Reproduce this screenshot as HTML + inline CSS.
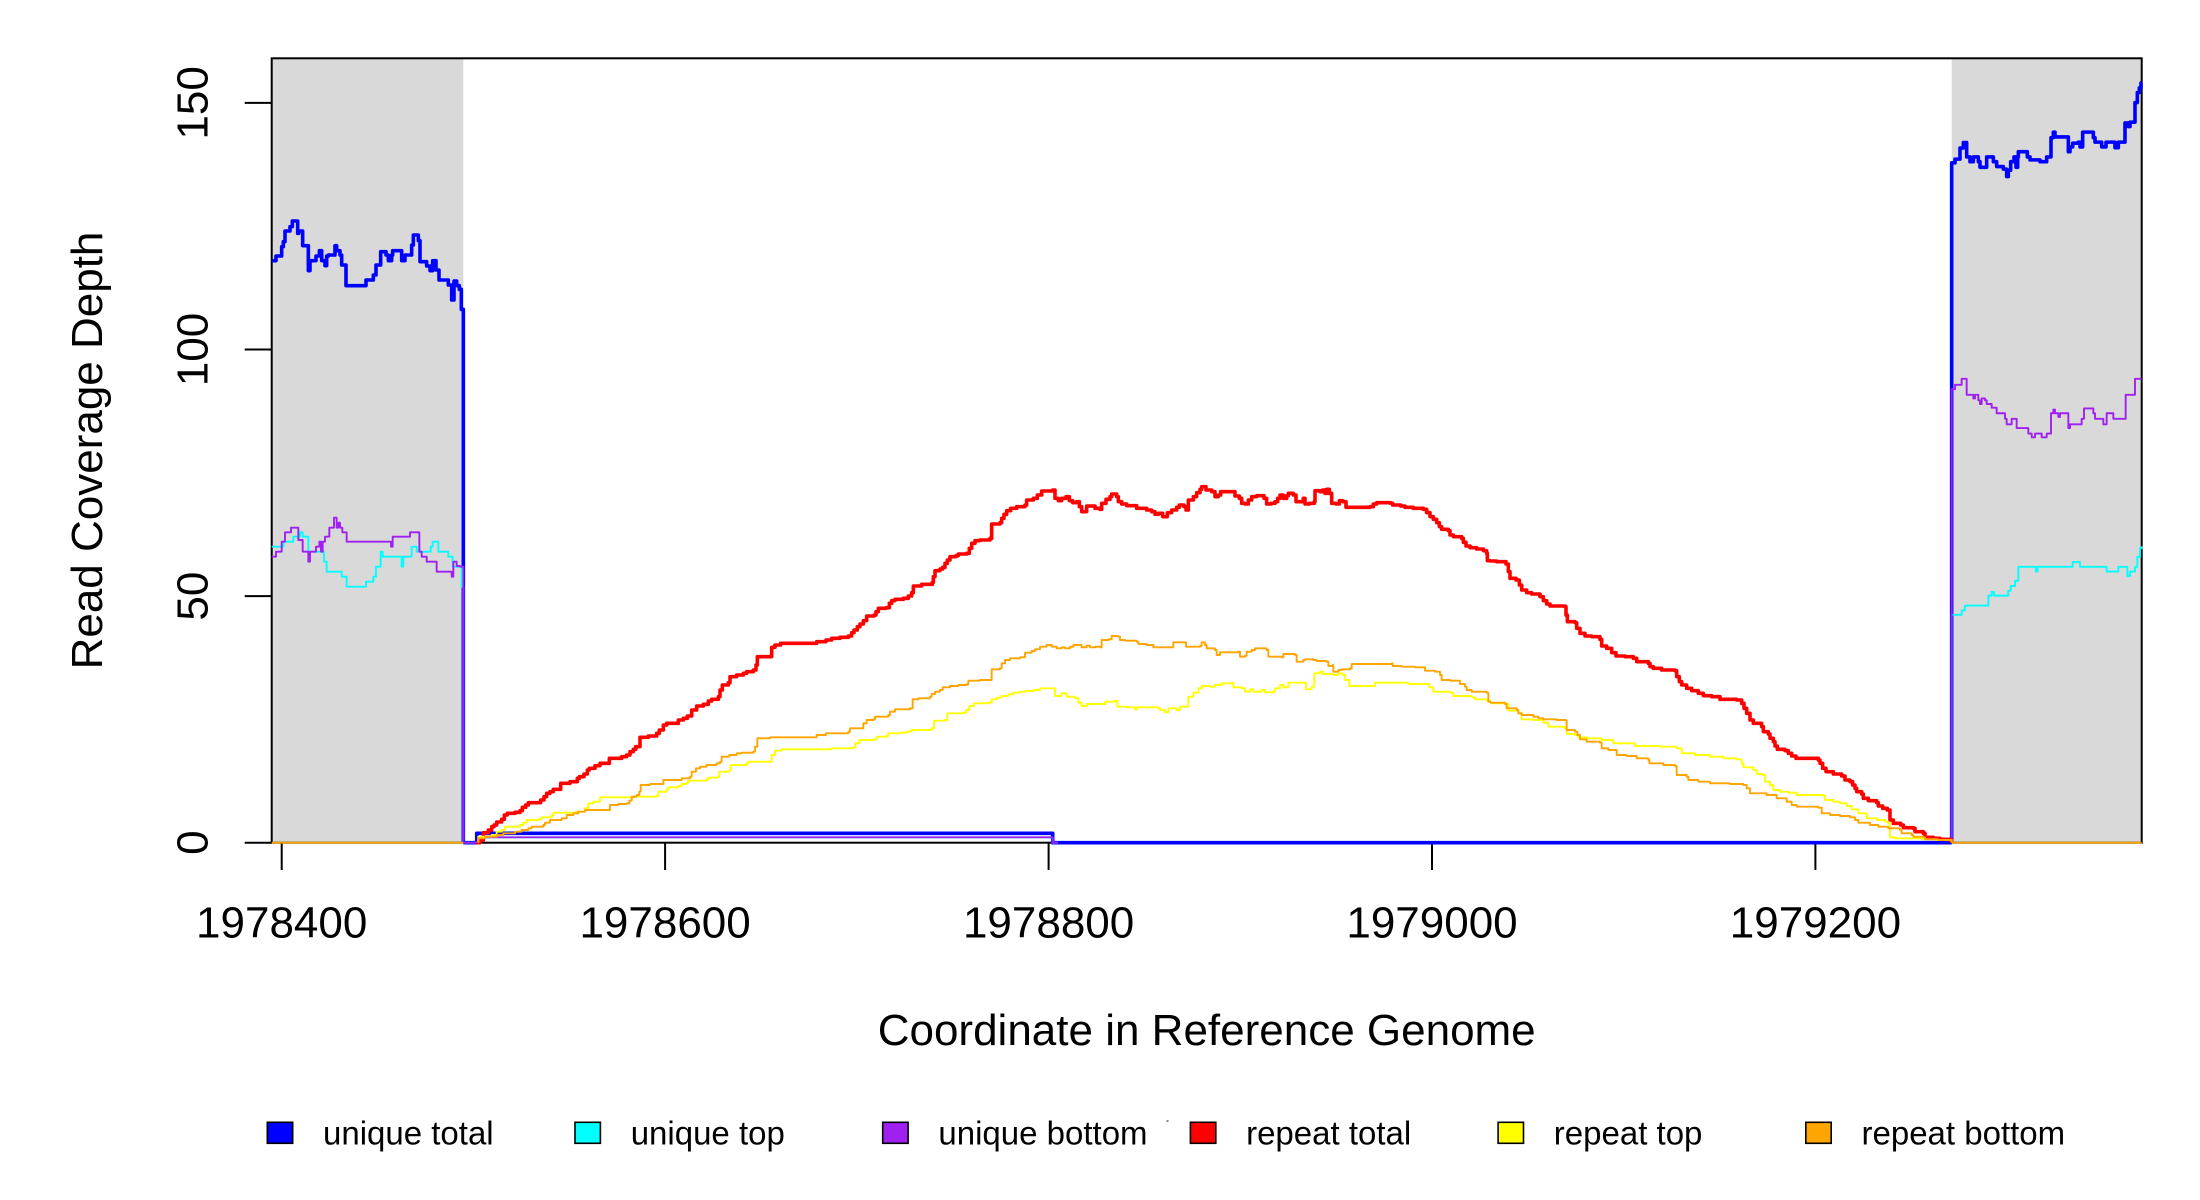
<!DOCTYPE html>
<html>
<head>
<meta charset="utf-8">
<style>
html,body{margin:0;padding:0;background:#fff;overflow:hidden;}
svg{display:block;}
text{font-family:"Liberation Sans",Arial,sans-serif;fill:#000;}
.s{fill:none;stroke-linejoin:round;stroke-linecap:butt;}
.thick{stroke-width:3.6px;}
.thin{stroke-width:1.9px;}
</style>
</head>
<body>
<svg width="2200" height="1200" viewBox="0 0 2200 1200" xmlns="http://www.w3.org/2000/svg">
<rect x="0" y="0" width="2200" height="1200" fill="#ffffff"/>
<!-- shaded regions -->
<rect x="271.7" y="58.3" width="191.6" height="784.4" fill="#d9d9d9"/>
<rect x="1951.7" y="58.3" width="190" height="784.4" fill="#d9d9d9"/>
<!-- box -->
<rect x="271.7" y="58.3" width="1870" height="784.4" fill="none" stroke="#000" stroke-width="2"/>

<!-- axis ticks -->
<g stroke="#000" stroke-width="2">
<line x1="244.7" y1="842.7" x2="271.7" y2="842.7"/>
<line x1="244.7" y1="596.1" x2="271.7" y2="596.1"/>
<line x1="244.7" y1="349.5" x2="271.7" y2="349.5"/>
<line x1="244.7" y1="102.9" x2="271.7" y2="102.9"/>
<line x1="281.7" y1="842.7" x2="281.7" y2="870"/>
<line x1="665.1" y1="842.7" x2="665.1" y2="870"/>
<line x1="1048.6" y1="842.7" x2="1048.6" y2="870"/>
<line x1="1432" y1="842.7" x2="1432" y2="870"/>
<line x1="1815.4" y1="842.7" x2="1815.4" y2="870"/>
</g>
<g font-size="44" text-anchor="middle">
<text transform="translate(207.6,842.7) rotate(-90)">0</text>
<text transform="translate(207.6,596.1) rotate(-90)">50</text>
<text transform="translate(207.6,349.5) rotate(-90)">100</text>
<text transform="translate(207.6,102.9) rotate(-90)">150</text>
<text x="281.7" y="937.5">1978400</text>
<text x="665.1" y="937.5">1978600</text>
<text x="1048.6" y="937.5">1978800</text>
<text x="1432" y="937.5">1979000</text>
<text x="1815.4" y="937.5">1979200</text>
<text x="1206.7" y="1045">Coordinate in Reference Genome</text>
<text transform="translate(102,450.5) rotate(-90)">Read Coverage Depth</text>
</g>

<!-- ===== unique series: left region ===== -->
<g transform="matrix(0.333333 0 0 0.333333 260 200)">
<path class="s thick" vector-effect="non-scaling-stroke" stroke="#0000ff" d="M35 182 H48 V168 H65 V140 H70 V125 H75 V93 H90 V80 H97 V63 H113 V100 H116 V93 H128 V137 H145 V212 H150 V182 H168 V168 H178 V152 H185 V182 H195 V197 H200 V168 H205 V165 H225 V137 H230 V152 H240 V165 H245 V195 H258 V257 H318 V240 H340 V225 H348 V195 H362 V155 H378 V165 H385 V182 H395 V165 H398 V152 H425 V182 H435 V165 H455 V135 H460 V105 H475 V122 H480 V185 H500 V198 H510 V212 H518 V182 H528 V210 H537 V240 H565 V255 H575 V300 H582 V243 H590 V257 H598 V268 H604 V328 H610 V1928"/>
<path class="s thin" vector-effect="non-scaling-stroke" stroke="#00ffff" d="M35 1040 H70 V1025 H100 V1010 H120 V997 H128 V1010 H145 V1055 H192 V1085 H200 V1115 H245 V1130 H260 V1160 H318 V1145 H340 V1130 H348 V1100 H362 V1055 H368 V1070 H425 V1100 H430 V1070 H455 V1040 H470 V1055 H512 V1040 H518 V1025 H535 V1055 H565 V1070 H578 V1100 H605 V1160 H610 V1928"/>
<path class="s thin" vector-effect="non-scaling-stroke" stroke="#a020f0" d="M35 1070 H48 V1055 H65 V1025 H75 V997 H93 V983 H115 V1020 H128 V1055 H145 V1085 H150 V1055 H168 V1040 H178 V1025 H183 V1055 H188 V1025 H195 V1010 H208 V983 H222 V953 H230 V983 H235 V968 H240 V983 H247 V997 H260 V1025 H393 V1040 H398 V1010 H450 V997 H478 V1055 H485 V1070 H500 V1085 H530 V1115 H575 V1130 H580 V1085 H590 V1098 H600 V1100 H610 V1928"/>
</g>

<!-- unique series: middle region -->
<path class="s thick" stroke="#0000ff" d="M463.3 842.7 H476.7 V833.3 H1052.7 V842.7 H1951.7"/>
<path class="s thin" stroke="#00ffff" d="M463.3 842.7 H478 V837.3 H1052.7 V842.7 H1058"/>
<path class="s thin" stroke="#a020f0" d="M463.3 842.7 H478 V837.3 H1052.7 V842.7 H1058"/>

<!-- ===== unique series: right region ===== -->
<g transform="matrix(0.333333 0 0 0.369904 1940 60)">
<path class="s thick" vector-effect="non-scaling-stroke" stroke="#0000ff" d="M35 2116 V278 H45 V268 H60 V238 H70 V223 H80 V262 H90 V275 H100 V262 H115 V275 H120 V290 H140 V262 H160 V275 H170 V288 H190 V295 H200 V315 H205 V298 H212 V275 H222 V262 H228 V290 H233 V262 H235 V248 H262 V262 H270 V270 H300 V275 H320 V262 H333 V210 H340 V195 H345 V208 H385 V248 H390 V235 H398 V225 H415 V222 H420 V235 H428 V195 H460 V210 H465 V222 H485 V235 H498 V222 H525 V237 H535 V222 H555 V170 H565 V180 H570 V168 H585 V115 H592 V88 H598 V75 H603 V62 H605"/>
<path class="s thin" vector-effect="non-scaling-stroke" stroke="#00ffff" d="M35 2116 V1500 H65 V1488 H75 V1475 H145 V1448 H155 V1438 H162 V1448 H205 V1435 H212 V1422 H225 V1408 H235 V1370 H288 V1383 H293 V1370 H398 V1357 H420 V1370 H500 V1383 H535 V1370 H562 V1395 H570 V1383 H585 V1370 H592 V1343 H600 V1320 H605 V1315"/>
<path class="s thin" vector-effect="non-scaling-stroke" stroke="#a020f0" d="M35 2116 V890 H45 V878 H65 V862 H80 V905 H100 V915 H105 V905 H115 V920 H120 V930 H125 V915 H135 V920 H140 V930 H155 V940 H170 V955 H195 V970 H200 V985 H215 V970 H230 V995 H265 V1010 H275 V1020 H285 V1010 H305 V1020 H320 V1010 H333 V955 H340 V945 H345 V955 H355 V965 H360 V955 H385 V995 H390 V985 H425 V970 H432 V942 H460 V955 H465 V970 H490 V985 H500 V955 H520 V970 H557 V905 H585 V862 H605"/>
</g>

<!-- ===== repeat series ===== -->
<g transform="matrix(0.333333 0 0 0.333333 470 330)">
<path class="s thick" vector-effect="non-scaling-stroke" stroke="#ff0000" d="M20 1538 H30 V1530 H40 V1508 H55 V1500 H65 V1490 H72 V1485 H80 V1476 H95 V1468 H103 V1455 H112 V1450 H135 V1447 H150 V1442 H157 V1432 H167 V1425 H175 V1418 H212 V1410 H222 V1400 H230 V1390 H240 V1385 H250 V1378 H272 V1360 H300 V1355 H322 V1345 H328 V1340 H342 V1332 H352 V1320 H358 V1315 H375 V1307 H390 V1300 H418 V1285 H455 V1280 H470 V1275 H480 V1265 H490 V1258 H497 V1250 H510 V1222 H535 V1218 H560 V1210 H568 V1200 H580 V1185 H590 V1180 H625 V1170 H640 V1165 H652 V1158 H665 V1140 H680 V1128 H700 V1123 H715 V1113 H725 V1108 H745 V1100 H750 V1080 H757 V1065 H775 V1058 H780 V1040 H800 V1035 H820 V1030 H830 V1025 H850 V1020 H858 V1005 H862 V980 H905 V952 H915 V945 H932 V940 H1040 V935 H1068 V930 H1085 V925 H1110 V922 H1135 V918 H1145 V908 H1152 V900 H1162 V890 H1170 V882 H1180 V872 H1190 V858 H1212 V855 H1218 V845 H1225 V835 H1248 V833 H1258 V820 H1265 V812 H1275 V808 H1300 V805 H1315 V798 H1325 V788 H1330 V768 H1355 V763 H1387 V757 H1390 V740 H1395 V722 H1410 V717 H1418 V712 H1425 V700 H1432 V690 H1440 V680 H1458 V677 H1465 V672 H1490 V670 H1498 V655 H1505 V640 H1515 V632 H1530 V630 H1533"/>
<path class="s thin" vector-effect="non-scaling-stroke" stroke="#ffff00" d="M25 1538 V1520 H65 V1515 H80 V1505 H95 V1500 H105 V1490 H150 V1485 H160 V1478 H170 V1470 H205 V1468 H215 V1462 H245 V1455 H250 V1448 H320 V1445 H345 V1435 H355 V1420 H370 V1415 H390 V1402 H495 V1400 H560 V1398 H565 V1385 H590 V1378 H595 V1372 H625 V1368 H635 V1362 H650 V1358 H655 V1352 H710 V1348 H715 V1343 H745 V1340 H748 V1325 H778 V1322 H782 V1305 H830 V1300 H835 V1295 H905 V1275 H915 V1262 H935 V1258 H1085 V1255 H1148 V1253 H1155 V1240 H1168 V1230 H1210 V1228 H1220 V1220 H1250 V1218 H1255 V1210 H1290 V1208 H1310 V1205 H1325 V1200 H1385 V1195 H1392 V1172 H1425 V1170 H1432 V1150 H1480 V1148 H1488 V1140 H1498 V1128 H1512 V1120 H1533"/>
<path class="s thin" vector-effect="non-scaling-stroke" stroke="#ffa500" d="M25 1538 V1525 H45 V1520 H80 V1515 H100 V1510 H135 V1505 H155 V1500 H175 V1495 H185 V1490 H220 V1485 H225 V1478 H240 V1470 H275 V1465 H290 V1455 H310 V1450 H325 V1445 H345 V1440 H420 V1425 H445 V1422 H470 V1420 H478 V1412 H485 V1400 H500 V1395 H508 V1385 H512 V1365 H540 V1362 H580 V1350 H635 V1345 H660 V1340 H665 V1325 H678 V1315 H690 V1310 H710 V1305 H740 V1300 H750 V1295 H755 V1280 H778 V1275 H800 V1270 H815 V1268 H850 V1265 H855 V1250 H862 V1225 H900 V1222 H1040 V1215 H1068 V1210 H1135 V1205 H1140 V1195 H1180 V1180 H1190 V1170 H1210 V1168 H1215 V1160 H1255 V1155 H1260 V1145 H1275 V1138 H1320 V1135 H1328 V1108 H1345 V1105 H1380 V1100 H1385 V1092 H1395 V1085 H1410 V1080 H1418 V1072 H1440 V1068 H1465 V1065 H1490 V1063 H1495 V1052 H1530 V1050 H1533"/>
</g>
<g transform="matrix(0.333333 0 0 0.333333 980 330)">
<path class="s thick" vector-effect="non-scaling-stroke" stroke="#ff0000" d="M0 630 H30 V625 H35 V582 H60 V578 H65 V565 H72 V553 H80 V542 H92 V535 H110 V530 H135 V525 H140 V510 H160 V505 H172 V495 H185 V483 H218 V480 H225 V505 H235 V512 H245 V505 H258 V500 H268 V512 H278 V518 H290 V515 H298 V530 H305 V545 H320 V528 H345 V535 H360 V538 H365 V520 H378 V508 H390 V500 H395 V492 H410 V500 H415 V515 H425 V522 H440 V527 H470 V535 H500 V540 H515 V545 H525 V553 H535 V550 H548 V560 H562 V548 H575 V540 H590 V532 H598 V525 H612 V530 H618 V540 H625 V510 H640 V500 H650 V488 H660 V478 H665 V470 H678 V480 H695 V485 H705 V500 H715 V495 H722 V485 H765 V498 H778 V505 H785 V520 H795 V522 H805 V510 H815 V500 H830 V497 H852 V505 H860 V522 H873 V520 H885 V515 H893 V505 H900 V495 H910 V505 H920 V497 H925 V490 H940 V495 H948 V515 H970 V505 H975 V522 H988 V520 H1003 V515 H1005 V482 H1020 V485 H1028 V480 H1035 V490 H1040 V478 H1048 V490 H1055 V520 H1068 V522 H1078 V512 H1088 V515 H1098 V532 H1170 V530 H1180 V522 H1190 V518 H1232 V520 H1238 V525 H1262 V528 H1275 V532 H1300 V535 H1330 V538 H1340 V548 H1350 V560 H1360 V568 H1370 V578 H1378 V590 H1385 V598 H1405 V602 H1410 V615 H1420 V620 H1445 V625 H1450 V637 H1458 V648 H1470 V653 H1490 V657 H1510 V662 H1520 V670 H1522 V692 H1533"/>
<path class="s thin" vector-effect="non-scaling-stroke" stroke="#ffff00" d="M0 1120 H25 V1118 H35 V1108 H50 V1103 H65 V1098 H85 V1093 H100 V1088 H120 V1085 H135 V1083 H160 V1080 H180 V1075 H225 V1098 H245 V1090 H260 V1100 H285 V1105 H295 V1118 H305 V1128 H320 V1122 H375 V1115 H405 V1112 H412 V1130 H440 V1132 H465 V1138 H470 V1132 H535 V1135 H540 V1140 H555 V1147 H565 V1135 H590 V1140 H600 V1130 H625 V1100 H640 V1088 H655 V1075 H665 V1068 H690 V1070 H705 V1065 H725 V1060 H755 V1058 H760 V1072 H785 V1075 H795 V1085 H810 V1078 H820 V1085 H845 V1080 H855 V1087 H880 V1085 H885 V1075 H900 V1065 H910 V1072 H925 V1058 H978 V1078 H995 V1070 H1003 V1030 H1020 V1025 H1028 V1032 H1060 V1035 H1075 V1030 H1088 V1035 H1095 V1050 H1108 V1068 H1185 V1058 H1285 V1062 H1348 V1072 H1360 V1085 H1410 V1088 H1420 V1098 H1475 V1102 H1485 V1108 H1520 V1112 H1533"/>
<path class="s thin" vector-effect="non-scaling-stroke" stroke="#ffa500" d="M0 1050 H35 V1018 H60 V1015 H65 V1000 H75 V990 H90 V985 H120 V982 H135 V968 H155 V963 H165 V958 H180 V950 H200 V945 H215 V950 H230 V955 H245 V952 H255 V955 H270 V950 H280 V945 H305 V952 H320 V947 H330 V952 H345 V950 H360 V952 H365 V930 H385 V928 H395 V918 H415 V920 H420 V930 H435 V932 H470 V935 H475 V942 H500 V945 H520 V952 H580 V937 H615 V937 H618 V950 H660 V948 H665 V937 H675 V945 H680 V955 H705 V960 H710 V975 H720 V967 H775 V965 H780 V980 H795 V977 H800 V965 H815 V960 H825 V955 H860 V960 H865 V980 H905 V982 H910 V972 H945 V975 H950 V995 H970 V990 H975 V988 H1000 V990 H1010 V993 H1040 V995 H1045 V1008 H1058 V1005 H1060 V1025 H1075 V1020 H1085 V1018 H1110 V1015 H1115 V1002 H1235 V1000 H1238 V1008 H1265 V1010 H1305 V1012 H1335 V1022 H1365 V1025 H1380 V1035 H1385 V1050 H1410 V1052 H1440 V1062 H1455 V1070 H1460 V1080 H1475 V1085 H1520 V1088 H1525 V1115 H1533"/>
</g>
<g transform="matrix(0.333333 0 0 0.333333 1490 330)">
<path class="s thick" vector-effect="non-scaling-stroke" stroke="#ff0000" d="M0 693 H20 V695 H48 V702 H55 V725 H60 V745 H78 V750 H88 V765 H95 V780 H110 V788 H125 V792 H150 V800 H160 V812 H170 V822 H180 V828 H225 V830 H228 V855 H232 V875 H255 V878 H260 V895 H270 V910 H285 V918 H305 V920 H330 V928 H335 V948 H350 V955 H365 V968 H378 V978 H405 V980 H430 V985 H440 V995 H475 V1000 H480 V1010 H490 V1015 H515 V1020 H555 V1022 H560 V1040 H568 V1055 H575 V1065 H590 V1075 H605 V1082 H625 V1090 H640 V1097 H665 V1100 H690 V1108 H740 V1110 H755 V1120 H762 V1135 H770 V1150 H780 V1170 H790 V1180 H815 V1190 H820 V1205 H835 V1212 H840 V1225 H850 V1235 H855 V1248 H862 V1258 H885 V1262 H895 V1270 H905 V1278 H918 V1285 H985 V1290 H990 V1300 H998 V1315 H1008 V1325 H1030 V1332 H1055 V1338 H1065 V1350 H1080 V1355 H1088 V1365 H1095 V1375 H1100 V1385 H1115 V1392 H1120 V1405 H1135 V1412 H1160 V1418 H1165 V1428 H1178 V1435 H1192 V1440 H1200 V1470 H1210 V1480 H1232 V1485 H1240 V1493 H1270 V1495 H1275 V1505 H1300 V1510 H1305 V1522 H1330 V1525 H1350 V1528 H1380 V1530 H1385 V1538"/>
<path class="s thin" vector-effect="non-scaling-stroke" stroke="#ffff00" d="M0 1120 H50 V1122 H55 V1142 H85 V1148 H95 V1168 H130 V1170 H160 V1178 H175 V1190 H225 V1195 H230 V1212 H255 V1215 H265 V1222 H290 V1225 H335 V1230 H370 V1240 H435 V1248 H510 V1250 H560 V1255 H575 V1270 H615 V1275 H660 V1280 H700 V1285 H740 V1288 H755 V1300 H760 V1312 H790 V1320 H800 V1332 H818 V1335 H825 V1355 H840 V1365 H850 V1380 H870 V1385 H895 V1388 H920 V1395 H1000 V1398 H1005 V1410 H1030 V1415 H1050 V1420 H1070 V1428 H1085 V1438 H1105 V1450 H1130 V1465 H1160 V1470 H1185 V1475 H1195 V1480 H1200 V1522 H1215 V1525 H1300 V1528 H1340 V1530 H1385 V1538"/>
<path class="s thin" vector-effect="non-scaling-stroke" stroke="#ffa500" d="M0 1118 H45 V1122 H50 V1135 H80 V1140 H85 V1150 H95 V1155 H130 V1160 H145 V1165 H160 V1168 H200 V1170 H228 V1172 H230 V1200 H255 V1205 H262 V1215 H270 V1228 H290 V1235 H330 V1238 H335 V1255 H355 V1260 H380 V1275 H410 V1278 H440 V1285 H475 V1290 H478 V1300 H520 V1305 H555 V1308 H560 V1335 H590 V1340 H595 V1350 H625 V1355 H660 V1360 H720 V1362 H760 V1365 H770 V1375 H780 V1390 H830 V1395 H860 V1405 H890 V1415 H905 V1425 H920 V1430 H985 V1433 H995 V1450 H1020 V1455 H1050 V1458 H1080 V1462 H1095 V1470 H1105 V1478 H1140 V1485 H1165 V1490 H1195 V1495 H1230 V1500 H1235 V1510 H1265 V1515 H1270 V1520 H1300 V1522 H1305 V1528 H1345 V1530 H1385 V1538"/>
</g>
<path class="s thin" stroke="#ffa500" d="M271.7 842.7 H463.3"/>
<path class="s thin" stroke="#ffa500" d="M1951.7 842.7 H2141.7"/>

<!-- legend -->
<g stroke="#000" stroke-width="1.6">
<rect x="267.3" y="1122.3" width="25.4" height="21" fill="#0000ff"/>
<rect x="575" y="1122.3" width="25.4" height="21" fill="#00ffff"/>
<rect x="882.7" y="1122.3" width="25.4" height="21" fill="#a020f0"/>
<rect x="1190.4" y="1122.3" width="25.4" height="21" fill="#ff0000"/>
<rect x="1498.1" y="1122.3" width="25.4" height="21" fill="#ffff00"/>
<rect x="1805.8" y="1122.3" width="25.4" height="21" fill="#ffa500"/>
</g>
<g font-size="33">
<text x="323" y="1144.3">unique total</text>
<text x="630.7" y="1144.3">unique top</text>
<text x="938.4" y="1144.3">unique bottom</text>
<text x="1246.1" y="1144.3">repeat total</text>
<text x="1553.8" y="1144.3">repeat top</text>
<text x="1861.5" y="1144.3">repeat bottom</text>
</g>
<rect x="1166.5" y="1120" width="2" height="2" fill="#888"/>
</svg>
</body>
</html>
